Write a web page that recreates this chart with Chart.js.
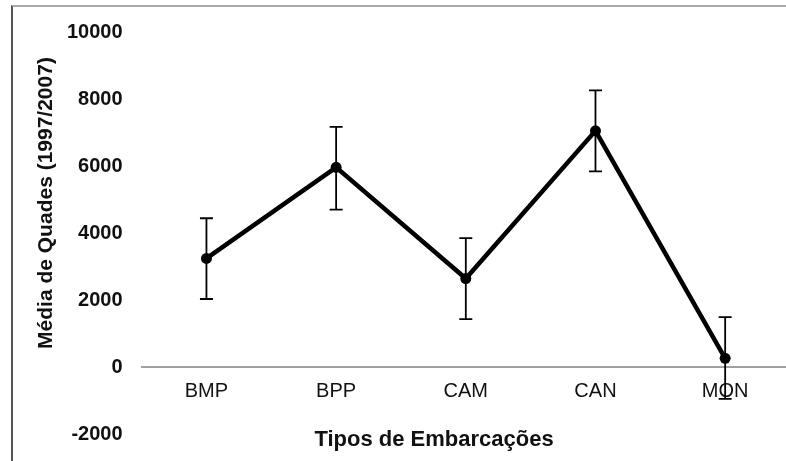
<!DOCTYPE html>
<html>
<head>
<meta charset="utf-8">
<script src="https://cdn.jsdelivr.net/npm/chart.js@4"></script>
<style>
  html, body { margin: 0; padding: 0; background: #fff; overflow: hidden; }
  #wrap { position: relative; width: 790px; height: 461px; }
  #frame {
    position: absolute; left: 11px; top: 5px; width: 800px; height: 470px;
    border-left: 2px solid #555; border-top: 2px solid #aaa; pointer-events: none;
  }
</style>
</head>
<body>
<div id="wrap">
  <canvas id="chart" width="790" height="461"></canvas>
  <div id="frame"></div>
</div>
<script>
// chart data
const categories = ['BMP', 'BPP', 'CAM', 'CAN', 'MON'];
const means = [3240, 5960, 2640, 7050, 260];
const errHigh = [4440, 7170, 3850, 8260, 1490];
const errLow = [2030, 4700, 1430, 5840, -950];
const yTicks = [-2000, 0, 2000, 4000, 6000, 8000, 10000];
const xTitle = 'Tipos de Embarcações';
const yTitle = 'Média de Quades (1997/2007)';

const FONT = '"Liberation Sans", Arial, sans-serif';
const INK = '#111';

// vertical error bars with caps, drawn through the chart's scales
const errorBars = {
  id: 'errorBars',
  afterDatasetsDraw(chart) {
    const { ctx, scales: { y } } = chart;
    const meta = chart.getDatasetMeta(0);
    ctx.save();
    ctx.strokeStyle = '#000';
    ctx.lineWidth = 1.8;
    meta.data.forEach((pt, i) => {
      const top = y.getPixelForValue(errHigh[i]);
      const bot = y.getPixelForValue(errLow[i]);
      ctx.beginPath();
      ctx.moveTo(pt.x, top);
      ctx.lineTo(pt.x, bot);
      ctx.moveTo(pt.x - 6.5, top);
      ctx.lineTo(pt.x + 6.5, top);
      ctx.moveTo(pt.x - 6.5, bot);
      ctx.lineTo(pt.x + 6.5, bot);
      ctx.stroke();
    });
    ctx.restore();
  }
};

// axis titles sit off-centre in the original, so they are placed by hand
const axisTitles = {
  id: 'axisTitles',
  afterDraw(chart) {
    const { ctx } = chart;
    ctx.save();
    ctx.fillStyle = INK;
    ctx.textAlign = 'center';
    ctx.textBaseline = 'middle';
    ctx.font = 'bold 22px ' + FONT;
    ctx.fillText(xTitle, 434, 440);
    ctx.translate(46, 203);
    ctx.rotate(-Math.PI / 2);
    ctx.font = 'bold 21px ' + FONT;
    ctx.fillText(yTitle, 0, 0);
    ctx.restore();
  }
};

new Chart(document.getElementById('chart'), {
  type: 'line',
  data: {
    labels: categories,
    datasets: [{
      data: means,
      borderColor: '#000',
      borderWidth: 4.5,
      tension: 0,
      pointRadius: 5.5,
      pointBackgroundColor: '#000',
      pointBorderColor: '#000',
      pointBorderWidth: 0
    }]
  },
  options: {
    responsive: false,
    animation: false,
    layout: { autoPadding: false, padding: { left: 48, top: 32, right: 0, bottom: 27 } },
    plugins: { legend: { display: false }, tooltip: { enabled: false } },
    scales: {
      x: {
        type: 'category',
        position: { y: 0 },
        offset: true,
        grid: { display: false, drawTicks: false },
        border: { display: true, color: '#a0a0a0', width: 2 },
        ticks: { color: INK, padding: 12, font: { family: FONT, size: 20 } },
        afterFit: (s) => { s.paddingLeft = 0; s.paddingRight = 0; }
      },
      y: {
        min: -2000,
        max: 10000,
        afterBuildTicks: (axis) => { axis.ticks = yTicks.map((v) => ({ value: v })); },
        afterFit: (s) => { s.paddingTop = 0; s.paddingBottom = 0; },
        grid: { display: false, drawTicks: false },
        border: { display: false },
        ticks: {
          color: INK,
          padding: 19,
          font: { family: FONT, size: 20, weight: 'bold' },
          callback: (v) => String(v)
        }
      }
    }
  },
  plugins: [errorBars, axisTitles]
});
</script>
</body>
</html>
